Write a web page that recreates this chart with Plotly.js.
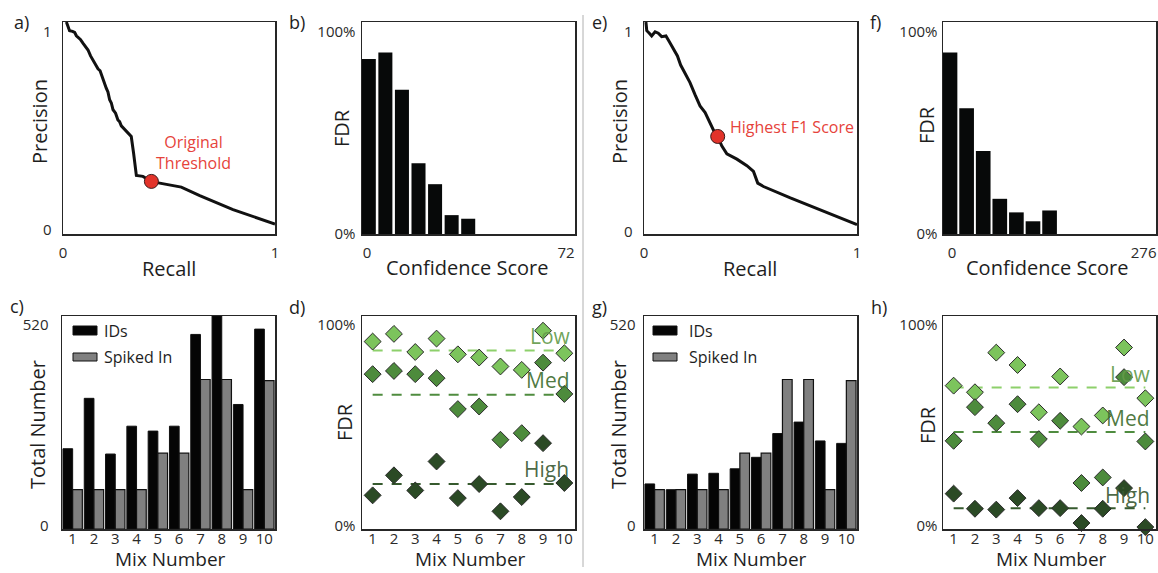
<!DOCTYPE html>
<html><head><meta charset="utf-8">
<script src="https://cdn.plot.ly/plotly-3.0.1.min.js"></script>
<style>html,body{margin:0;padding:0;background:#fff}</style>
</head><body><div id="chart" style="width:1158px;height:573px"></div>
<script>
// ---- Panel a: precision-recall (original threshold)
const prA_recall    = [0.016,0.024,0.031,0.045,0.055,0.063,0.071,0.082,0.094,0.106,0.118,0.130,0.142,0.155,0.165,0.175,0.181,0.192,0.204,0.212,0.220,0.228,0.236,0.248,0.259,0.267,0.275,0.288,0.299,0.311,0.322,0.333,0.346,0.377,0.417,0.456,0.558,0.645,0.802,1.0];
const prA_precision = [1.000,0.975,0.959,0.956,0.951,0.935,0.928,0.918,0.900,0.885,0.868,0.840,0.821,0.800,0.779,0.770,0.750,0.722,0.688,0.670,0.633,0.618,0.586,0.570,0.538,0.530,0.510,0.496,0.484,0.470,0.460,0.381,0.276,0.272,0.248,0.240,0.221,0.181,0.115,0.047];
const prA_pointRecall = [0.417], prA_pointPrecision = [0.248];
// ---- Panel e: precision-recall (highest F1)
const prE_recall    = [0.009,0.013,0.025,0.036,0.052,0.067,0.083,0.103,0.119,0.138,0.157,0.172,0.193,0.216,0.240,0.263,0.287,0.310,0.329,0.346,0.365,0.389,0.436,0.483,0.514,0.534,0.561,0.687,0.843,1.0];
const prE_precision = [1.000,0.959,0.947,0.934,0.954,0.947,0.931,0.934,0.907,0.876,0.840,0.797,0.755,0.714,0.656,0.604,0.573,0.526,0.484,0.460,0.416,0.378,0.353,0.322,0.295,0.240,0.224,0.170,0.107,0.044];
const prE_pointRecall = [0.346], prE_pointPrecision = [0.460];
// ---- Panels b, f: FDR by confidence score bin
const confB = [2.3, 7.9, 13.5, 19.1, 24.7, 30.3, 35.9];
const fdrB  = [0.826, 0.856, 0.680, 0.334, 0.235, 0.089, 0.072];
const confF = [9.1, 30.6, 52.1, 73.6, 95.1, 116.6, 138.1];
const fdrF  = [0.856, 0.593, 0.392, 0.166, 0.102, 0.060, 0.111];
// ---- Panels c, g: totals per mix
const mixNumber = [1,2,3,4,5,6,7,8,9,10];
const idsC     = [196, 319, 183, 251, 239, 251, 475, 520, 304, 488];
const spikedC  = [96, 96, 96, 96, 185, 185, 365, 365, 96, 362];
const idsG     = [110, 96, 134, 136, 147, 175, 233, 261, 215, 209];
const spikedG  = [96, 96, 96, 96, 185, 185, 365, 365, 96, 362];
// ---- Panels d, h: FDR per mix at Low / Med / High thresholds
const lowD  = [0.880,0.916,0.831,0.894,0.820,0.805,0.763,0.747,0.931,0.825];
const medD  = [0.727,0.742,0.727,0.708,0.563,0.575,0.419,0.450,0.781,0.634];
const highD = [0.158,0.252,0.181,0.317,0.145,0.211,0.083,0.150,0.403,0.216];
const avgD  = {low:0.838, med:0.630, high:0.211};
const lowH  = [0.673,0.642,0.828,0.770,0.548,0.716,0.481,0.533,0.852,0.614];
const medH  = [0.414,0.572,0.497,0.586,0.422,0.508,0.216,0.242,0.713,0.411];
const highH = [0.166,0.095,0.091,0.145,0.098,0.098,0.028,0.095,0.192,0.009];
const avgH  = {low:0.664, med:0.455, high:0.098};
const levelNames = ['Low','Med','High'];
const legendNames = ['IDs','Spiked In'];

const W = 1158, H = 573;
const FONT = 'Open Sans, Noto Sans, sans-serif';
const dx = (l,r) => [l/W, r/W];
const dy = (t,b) => [1-b/H, 1-t/H];
const px = x => x/W, py = y => 1-y/H;

const greens = {low:'#7cc45c', med:'#4d8b3c', high:'#2b4a25'};
const lineGreens = {low:'#8dd06b', med:'#4f8c3f', high:'#365a2e'};
const textGreens = {low:'rgba(100,155,75,0.92)', med:'rgba(62,110,48,0.92)', high:'rgba(60,90,52,0.92)'};

const traces = [];
function pr(xa, ya, rec, prec, pr0, pp0){
  traces.push({type:'scatter', mode:'lines', x:rec, y:prec, xaxis:xa, yaxis:ya,
    line:{color:'#111', width:3, shape:'linear'}, hoverinfo:'skip', cliponaxis:false});
  traces.push({type:'scatter', mode:'markers', x:pr0, y:pp0, xaxis:xa, yaxis:ya,
    marker:{color:'#e2332a', size:14, line:{color:'#3a1a1a', width:1}}, cliponaxis:false});
}
pr('x','y', prA_recall, prA_precision, prA_pointRecall, prA_pointPrecision);
pr('x3','y3', prE_recall, prE_precision, prE_pointRecall, prE_pointPrecision);

traces.push({type:'bar', x:confB, y:fdrB, xaxis:'x2', yaxis:'y2', width:4.74,
  marker:{color:'#070909', line:{width:0}}});
traces.push({type:'bar', x:confF, y:fdrF, xaxis:'x4', yaxis:'y4', width:19,
  marker:{color:'#070909', line:{width:0}}});

function grouped(xa, ya, ids, sp){
  traces.push({type:'bar', name:legendNames[0], x:mixNumber, y:ids, xaxis:xa, yaxis:ya,
    offsetgroup:'a', marker:{color:'#050505', line:{color:'#111', width:1}}});
  traces.push({type:'bar', name:legendNames[1], x:mixNumber, y:sp, xaxis:xa, yaxis:ya,
    offsetgroup:'b', marker:{color:'#808080', line:{color:'#111', width:1.2}}});
}
grouped('x5','y5', idsC, spikedC);
grouped('x7','y7', idsG, spikedG);

function fdrPanel(xa, ya, low, med, high, avg){
  const lv = [['low',low],['med',med],['high',high]];
  lv.forEach(([k]) => {
    traces.push({type:'scatter', mode:'lines', x:[mixNumber[0], mixNumber[mixNumber.length-1]],
      y:[avg[k], avg[k]], xaxis:xa, yaxis:ya, line:{color:lineGreens[k], width:2, dash:'10px,9px'},
      hoverinfo:'skip'});
  });
  lv.forEach(([k,vals]) => {
    traces.push({type:'scatter', mode:'markers', x:mixNumber, y:vals, xaxis:xa, yaxis:ya,
      cliponaxis:false,
      marker:{symbol:'diamond', size:13, color:greens[k], line:{color:'#2a2a2a', width:1}}});
  });
}
fdrPanel('x6','y6', lowD, medD, highD, avgD);
fdrPanel('x8','y8', lowH, medH, highH, avgH);

const baseAxis = {showline:true, mirror:true, linecolor:'#262626', linewidth:1.5, showgrid:false,
  zeroline:false, ticks:'', tickfont:{family:FONT, size:15, color:'#2a2a2a'}, fixedrange:true};
function ax(o){ return Object.assign({}, baseAxis, o); }
const bottomX = {range:[0.5,10.5], tickvals:mixNumber, ticklabelstandoff:-5};

const layout = {
  width:W, height:H, margin:{l:0,r:0,t:0,b:0}, paper_bgcolor:'#fff', plot_bgcolor:'#fff',
  showlegend:false, barmode:'group', bargap:0.09, bargroupgap:0,
  font:{family:FONT},
  // a
  xaxis: ax({domain:dx(63,275), anchor:'y', range:[0,1], tickvals:[0,1], ticktext:['0','1'], ticklabelstandoff:4}),
  yaxis: ax({domain:dy(22,234), anchor:'x', range:[0,1], tickvals:[0.02,0.953], ticktext:['0','1'], ticklabelstandoff:7}),
  // b
  xaxis2: ax({domain:dx(362,575), anchor:'y2', range:[0,72], tickvals:[1.7,69], ticktext:['0','72'], ticklabelstandoff:4}),
  yaxis2: ax({domain:dy(22,234), anchor:'x2', range:[0,1], tickvals:[0,0.953], ticktext:['0%','100%'], ticklabelstandoff:2}),
  // e
  xaxis3: ax({domain:dx(644,857), anchor:'y3', range:[0,1], tickvals:[0,1], ticktext:['0','1'], ticklabelstandoff:4}),
  yaxis3: ax({domain:dy(22,234), anchor:'x3', range:[0,1], tickvals:[0.01,0.953], ticktext:['0','1'], ticklabelstandoff:7}),
  // f
  xaxis4: ax({domain:dx(943,1156), anchor:'y4', range:[0,276], tickvals:[11.7,260], ticktext:['0','276'], ticklabelstandoff:4}),
  yaxis4: ax({domain:dy(22,234), anchor:'x4', range:[0,1], tickvals:[0,0.953], ticktext:['0%','100%'], ticklabelstandoff:1}),
  // c
  xaxis5: ax(Object.assign({domain:dx(62,275), anchor:'y5'}, bottomX)),
  yaxis5: ax({domain:dy(316,529), anchor:'x5', range:[0,520], tickvals:[7,498], ticktext:['0','520'], ticklabelstandoff:9}),
  // d
  xaxis6: ax(Object.assign({domain:dx(362,575), anchor:'y6'}, bottomX)),
  yaxis6: ax({domain:dy(316,529), anchor:'x6', range:[0,1], tickvals:[0.014,0.958], ticktext:['0%','100%'], ticklabelstandoff:2}),
  // g
  xaxis7: ax(Object.assign({domain:dx(644,857), anchor:'y7'}, bottomX)),
  yaxis7: ax({domain:dy(316,529), anchor:'x7', range:[0,520], tickvals:[7,498], ticktext:['0','520'], ticklabelstandoff:4}),
  // h
  xaxis8: ax(Object.assign({domain:dx(943,1156), anchor:'y8'}, bottomX)),
  yaxis8: ax({domain:dy(316,529), anchor:'x8', range:[0,1], tickvals:[0.014,0.958], ticktext:['0%','100%'], ticklabelstandoff:1}),
  shapes: [
    {type:'line', xref:'paper', yref:'paper', x0:px(583), x1:px(583), y0:py(15), y1:py(567), line:{color:'#b0b0b0', width:1}},
  ],
  annotations: []
};

function txt(text, x, y, size, opts){
  layout.annotations.push(Object.assign({text, x:px(x), y:py(y), xref:'paper', yref:'paper',
    showarrow:false, xanchor:'center', yanchor:'middle',
    font:{family:FONT, size, color:'#1e1e1e'}}, opts||{}));
}
// panel letters
[['a)',12,22],['b)',287,22],['e)',590,22],['f)',868,22],['c)',8,306],['d)',287,307],['g)',590,307],['h)',869,307]]
  .forEach(([t,x,y]) => txt(t, x, y, 18, {xanchor:'left'}));
// axis titles
txt('Recall', 169, 268, 20); txt('Recall', 750, 268, 20);
txt('Precision', 40, 122, 20, {textangle:-90}); txt('Precision', 620, 122, 20, {textangle:-90});
txt('Confidence Score', 467, 267, 20); txt('Confidence Score', 1047, 267, 20);
txt('FDR', 342, 128, 20, {textangle:-90}); txt('FDR', 926, 125, 20, {textangle:-90});
txt('Total Number', 37, 425, 20, {textangle:-90}); txt('Total Number', 618, 425, 20, {textangle:-90});
txt('FDR', 344, 422, 20, {textangle:-90}); txt('FDR', 927, 425, 20, {textangle:-90});
txt('Mix Number', 170, 559, 19); txt('Mix Number', 470, 559, 19);
txt('Mix Number', 751, 559, 19); txt('Mix Number', 1051, 559, 19);
// point labels
txt('Original<br>Threshold', 193, 152, 16, {font:{family:FONT, size:16, color:'#e6433b'}});
txt('Highest F1 Score', 728, 127, 16, {xanchor:'left', font:{family:FONT, size:16, color:'#e6433b'}});
// level labels
const lvlKeys = ['low','med','high'];
[[550,336],[548,380],[546,469]].forEach(([x,y],i) => txt(levelNames[i], x, y, 21, {font:{family:FONT, size:21, color:textGreens[lvlKeys[i]]}}));
[[1130,374],[1128,418],[1127,495]].forEach(([x,y],i) => txt(levelNames[i], x, y, 21, {font:{family:FONT, size:21, color:textGreens[lvlKeys[i]]}}));
// legends (c, g)
[[73,102],[653,687]].forEach(([bx,tx]) => {
  layout.shapes.push({type:'rect', xref:'paper', yref:'paper', x0:px(bx), x1:px(bx+24), y0:py(335), y1:py(326), fillcolor:'#050505', line:{color:'#111', width:1}});
  layout.shapes.push({type:'rect', xref:'paper', yref:'paper', x0:px(bx), x1:px(bx+24), y0:py(361), y1:py(353), fillcolor:'#808080', line:{color:'#111', width:1}});
  txt(legendNames[0], tx, 331, 16, {xanchor:'left'});
  txt(legendNames[1], tx, 357, 16, {xanchor:'left'});
});

Plotly.newPlot('chart', traces, layout, {staticPlot:true, displayModeBar:false});
</script>
</body></html>
